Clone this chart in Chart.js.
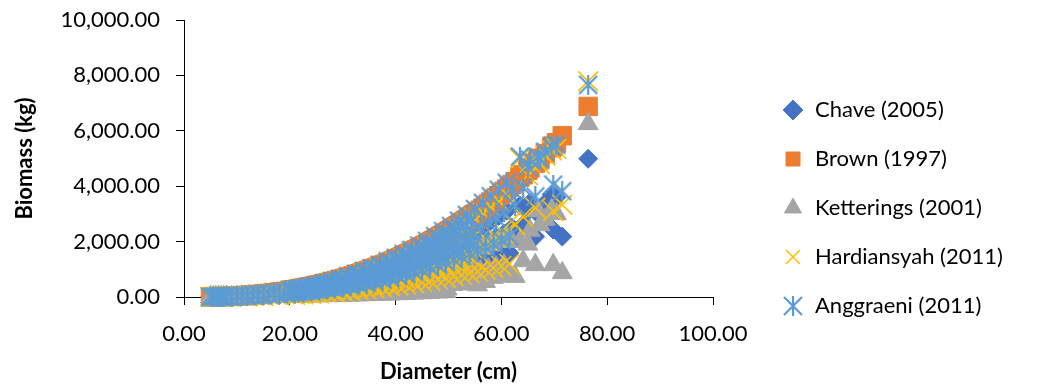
<!DOCTYPE html>
<html>
<head>
<meta charset="utf-8">
<title>Biomass vs Diameter</title>
<script src="https://cdn.jsdelivr.net/npm/chart.js@4.4.0/dist/chart.umd.min.js"></script>
<style>
  html, body { margin: 0; padding: 0; background: #fff; }
  #wrap { width: 1037px; height: 387px; }
</style>
</head>
<body>
<div id="wrap"><canvas id="biomass-chart" width="1037" height="387"></canvas></div>
<script>
// tree diameters (cm), one entry per tree, shared by every series
const diameterCm = [
  5, 5.5, 6, 6.5, 7, 7.5, 8, 9, 10, 11, 12, 13, 14, 15, 16, 17, 18, 19, 20,
  20.5, 21, 21.5, 22, 22.5, 23, 23.5, 24, 24.5, 25,
  25.5, 26, 26.5, 27, 27.5, 28, 28.5, 29, 29.5, 30,
  30.5, 31, 31.5, 32, 32.5, 33, 33.5, 34, 34.5, 35,
  35.5, 36, 36.5, 37, 37.5, 38, 38.5, 39, 39.5, 40,
  40.5, 41, 41.5, 42, 42.5, 43, 43.5, 44, 44.5, 45,
  45.5, 46, 46.5, 47, 47.5, 48, 48.5, 49, 49.5, 50,
  50.5, 51, 51.5, 52, 52.5, 53, 53.5, 54, 54.5, 55,
  55.5, 56, 56.5, 57, 57.5, 58, 58.5, 59, 59.5, 60, 60.5, 61, 61.5,
  62, 62.6, 63.5, 64.1, 65, 65.4, 66.4, 66.9, 67.3, 68.3, 69.5, 69.8, 70.4, 71.5, 76.4,
  // second group of trees, between the half-centimetre classes
  20.25, 20.75, 21.25, 21.75, 22.25, 22.75, 23.25, 23.75, 24.25, 24.75,
  25.25, 25.75, 26.25, 26.75, 27.25, 27.75, 28.25, 28.75, 29.25, 29.75,
  30.25, 30.75, 31.25, 31.75, 32.25, 32.75, 33.25, 33.75, 34.25, 34.75,
  35.25, 35.75, 36.25, 36.75, 37.25, 37.75, 38.25, 38.75, 39.25, 39.75,
  40.25, 40.75, 41.25, 41.75, 42.25, 42.75, 43.25, 43.75, 44.25, 44.75,
  45.25, 45.75, 46.25, 46.75, 47.25, 47.75, 48.25, 48.75, 49.25, 49.75,
  50.25, 50.75, 51.25, 51.75, 52.25, 52.75, 53.25, 53.75, 54.25, 54.75
];

// biomass (kg) for each allometric equation, same tree order as diameterCm
const chave2005 = [
  6, 4, 7, 11, 6, 12, 18, 12, 24, 41, 26, 47, 75, 45, 79, 123, 71, 122, 186,
  198, 105, 167, 236, 125, 198, 278, 147, 232, 326,
  171, 270, 378, 198, 311, 434, 227, 356, 495, 258,
  404, 562, 292, 457, 634, 329, 513, 710, 368, 573,
  792, 410, 637, 879, 455, 705, 972, 502, 778, 1070,
  552, 854, 1174, 605, 935, 1285, 662, 1022, 1402, 721,
  1112, 1524, 783, 1207, 1654, 849, 1307, 1789, 918, 1412,
  1930, 990, 1521, 2078, 1064, 1636, 2234, 1144, 1756, 2396,
  1226, 1881, 2566, 1312, 2012, 2742, 1402, 2148, 2926, 1494, 2289, 3116, 1591,
  2500, 2300, 3300, 2610, 3100, 3400, 2180, 3000, 3200, 3400, 3700, 2430, 3600, 2180, 4990,
  168, 128, 189, 144, 213, 161, 237, 179, 264, 199,
  293, 220, 323, 242, 355, 265, 389, 290, 424, 317,
  462, 344, 502, 373, 544, 404, 587, 436, 633, 469,
  681, 504, 731, 541, 783, 578, 837, 618, 893, 659,
  952, 702, 1012, 746, 1075, 792, 1141, 840, 1210, 889,
  1280, 940, 1352, 993, 1428, 1048, 1506, 1104, 1586, 1162,
  1668, 1222, 1754, 1283, 1840, 1347, 1931, 1413, 2025, 1481
];
const brown1997 = [
  7, 9, 11, 14, 16, 20, 23, 31, 40, 51, 64, 78, 94, 112, 132, 154, 178, 203, 232,
  247, 262, 278, 295, 312, 330, 348, 367, 387, 407,
  428, 450, 472, 495, 518, 542, 567, 593, 619, 646,
  674, 702, 731, 761, 792, 823, 855, 887, 921, 955,
  990, 1025, 1062, 1099, 1137, 1175, 1215, 1255, 1296, 1338,
  1381, 1424, 1468, 1513, 1559, 1606, 1654, 1703, 1752, 1802,
  1853, 1905, 1958, 2012, 2067, 2122, 2179, 2236, 2294, 2353,
  2413, 2474, 2535, 2597, 2661, 2726, 2792, 2859, 2927, 2995,
  3065, 3135, 3207, 3280, 3354, 3428, 3504, 3580, 3657, 3735, 3815, 3895, 3977,
  4059, 4160, 4330, 4410, 4574, 4660, 4830, 4920, 5010, 5180, 5390, 5450, 5570, 5820, 6880,
  240, 255, 270, 287, 304, 321, 339, 358, 377, 397,
  418, 439, 461, 484, 507, 530, 555, 580, 606, 633,
  660, 688, 717, 746, 777, 808, 839, 871, 904, 938,
  973, 1008, 1044, 1081, 1118, 1156, 1195, 1235, 1276, 1317,
  1360, 1403, 1446, 1491, 1536, 1583, 1630, 1679, 1728, 1777,
  1828, 1879, 1932, 1985, 2040, 2095, 2151, 2208, 2265, 2324,
  2383, 2444, 2505, 2566, 2629, 2694, 2759, 2826, 2893, 2961
];
const ketterings2001 = [
  4, 1, 3, 7, 1, 6, 13, 2, 12, 28, 5, 23, 52, 9, 40, 85, 14, 61, 128,
  86, 21, 56, 103, 25, 66, 122, 29, 77, 142,
  34, 90, 165, 40, 104, 190, 45, 119, 217, 52,
  135, 246, 58, 152, 277, 66, 171, 310, 74, 191,
  347, 82, 212, 385, 91, 235, 425, 100, 259, 468,
  110, 285, 514, 121, 312, 562, 132, 341, 613, 144,
  371, 667, 157, 402, 723, 170, 436, 783, 184, 471,
  845, 495, 507, 909, 532, 545, 977, 572, 585, 1048,
  430, 941, 1764, 550, 1006, 1885, 700, 1074, 2011, 750, 1145, 2142, 800,
  2000, 735, 2000, 1300, 1900, 2400, 1160, 3100, 2600, 2800, 3150, 1160, 3000, 870, 6250,
  67, 31, 76, 34, 85, 39, 95, 43, 106, 48,
  117, 53, 129, 58, 142, 64, 155, 70, 170, 76,
  185, 83, 201, 90, 218, 97, 235, 105, 253, 113,
  272, 121, 292, 130, 313, 139, 335, 148, 357, 158,
  381, 168, 405, 179, 430, 190, 456, 201, 484, 213,
  512, 225, 541, 238, 571, 251, 602, 265, 634, 279,
  667, 440, 701, 462, 736, 485, 773, 509, 810, 533
];
const hardiansyah2011 = [
  7, 3, 7, 13, 5, 12, 22, 9, 24, 48, 19, 47, 89, 34, 79, 146, 53, 122, 220,
  235, 79, 167, 280, 94, 198, 331, 110, 232, 387,
  128, 270, 448, 149, 311, 515, 170, 356, 588, 194,
  404, 667, 219, 457, 752, 247, 513, 843, 276, 573,
  941, 308, 637, 1044, 341, 705, 1154, 377, 778, 1271,
  414, 854, 1395, 454, 935, 1526, 496, 1022, 1664, 541,
  1112, 1810, 587, 1207, 1964, 637, 1307, 2124, 688, 1412,
  2292, 742, 1521, 2467, 798, 1636, 2652, 858, 1756, 2845,
  920, 1881, 3047, 984, 2012, 3257, 1051, 2148, 3474, 1121, 2289, 3700, 1193,
  2750, 2600, 5000, 2900, 4400, 4850, 3220, 5000, 4800, 5100, 5300, 3100, 5350, 3330, 7790,
  173, 115, 194, 129, 219, 144, 244, 161, 271, 179,
  301, 198, 332, 218, 365, 239, 400, 261, 436, 285,
  475, 310, 516, 336, 559, 364, 604, 392, 651, 422,
  701, 454, 752, 486, 805, 520, 860, 556, 919, 593,
  979, 631, 1041, 671, 1106, 712, 1174, 756, 1244, 800,
  1316, 846, 1391, 893, 1469, 943, 1549, 994, 1631, 1046,
  1716, 1100, 1804, 1155, 1893, 1212, 1986, 1272, 2083, 1332
];
const anggraeni2011 = [
  7, 5, 9, 14, 9, 16, 24, 17, 32, 54, 35, 62, 100, 62, 106, 163, 98, 162, 246,
  262, 144, 222, 313, 172, 264, 369, 202, 310, 431,
  235, 360, 500, 272, 414, 575, 312, 474, 656, 355,
  539, 744, 402, 609, 840, 453, 684, 940, 507, 764,
  1049, 564, 850, 1165, 625, 940, 1288, 690, 1037, 1418,
  760, 1139, 1556, 832, 1247, 1702, 910, 1362, 1857, 991,
  1482, 2019, 1077, 1610, 2191, 1167, 1743, 2370, 1262, 1882,
  2558, 1361, 2028, 2753, 1464, 2181, 2960, 1572, 2342, 3175,
  1686, 2508, 3400, 1804, 2683, 3634, 1927, 2864, 3876, 2054, 3052, 4129, 2187,
  3880, 3300, 5070, 3950, 4700, 4960, 3630, 5070, 4960, 5250, 5450, 4060, 5500, 3820, 7660,
  228, 173, 257, 195, 289, 218, 322, 243, 358, 270,
  397, 299, 438, 329, 482, 360, 527, 394, 576, 430,
  627, 468, 681, 507, 738, 549, 797, 592, 859, 638,
  924, 685, 992, 735, 1062, 786, 1135, 840, 1212, 896,
  1292, 954, 1374, 1014, 1459, 1076, 1549, 1142, 1642, 1208,
  1737, 1278, 1835, 1350, 1938, 1425, 2043, 1501, 2152, 1580,
  2264, 1662, 2380, 1745, 2498, 1832, 2621, 1922, 2748, 2013
];

const seriesNames = ["Chave (2005)", "Brown (1997)", "Ketterings (2001)", "Hardiansyah (2011)", "Anggraeni (2011)"];
const seriesValues = [chave2005, brown1997, ketterings2001, hardiansyah2011, anggraeni2011];
const seriesColors = ["#4472C4", "#ED7D31", "#A5A5A5", "#FFC000", "#5B9BD5"];

// excel style asterisk: an X with a vertical bar
function asteriskMarker(color, size, lw) {
  const c = document.createElement("canvas");
  c.width = size; c.height = size;
  const g = c.getContext("2d");
  g.strokeStyle = color;
  g.lineWidth = lw;
  g.beginPath();
  g.moveTo(1, 1); g.lineTo(size - 1, size - 1);
  g.moveTo(size - 1, 1); g.lineTo(1, size - 1);
  g.moveTo(size / 2, 0); g.lineTo(size / 2, size);
  g.stroke();
  return c;
}

const markerStyles = [
  { pointStyle: "rectRot", radius: 9.5, borderWidth: 1 },
  { pointStyle: "rect", radius: 13, borderWidth: 1 },
  { pointStyle: "triangle", radius: 11.5, borderWidth: 1 },
  { pointStyle: "crossRot", radius: 14, borderWidth: 1.6 },
  { pointStyle: asteriskMarker(seriesColors[4], 20, 2.2), radius: 10, borderWidth: 1.5 }
];

const datasets = seriesNames.map((name, i) => ({
  label: name,
  data: diameterCm.map((d, k) => ({ x: d, y: seriesValues[i][k] })),
  backgroundColor: seriesColors[i],
  borderColor: seriesColors[i],
  pointStyle: markerStyles[i].pointStyle,
  pointRadius: markerStyles[i].radius,
  pointHoverRadius: markerStyles[i].radius,
  pointBorderWidth: markerStyles[i].borderWidth,
  order: seriesNames.length - 1 - i,   // later series drawn on top, like excel
  clip: false
}));

const fmt2 = v => v.toLocaleString("en-US", { minimumFractionDigits: 2, maximumFractionDigits: 2 });

// legend sits to the right of the plot, plot area ends at x=713
const legendPlacement = {
  id: "legendPlacement",
  beforeLayout(chart) {
    const lg = chart.legend;
    if (lg && !lg.fixedFit) {
      const fit = lg.fit.bind(lg);
      lg.fit = function () { fit(); this.width = 324; };
      lg.fixedFit = true;
    }
  },
  afterLayout(chart) {
    const lg = chart.legend;
    lg.left = 755; lg.right = 1037;
    lg.top = 14; lg.bottom = 402;
  }
};

Chart.defaults.font.family = "Lato, 'Open Sans', sans-serif";
Chart.defaults.font.size = 22;
Chart.defaults.color = "#000";

new Chart("biomass-chart", {
  type: "scatter",
  data: { datasets: datasets },
  plugins: [legendPlacement],
  options: {
    responsive: false,
    animation: false,
    layout: { padding: { top: 20, right: 0, bottom: 0, left: 0 } },
    scales: {
      x: {
        type: "linear",
        min: 0, max: 100,
        afterFit: s => { s.height = 90; s.paddingLeft = 0; s.paddingRight = 0; },
        border: { color: "#000", width: 1 },
        grid: { drawOnChartArea: false, color: "#000", tickLength: 8 },
        ticks: { stepSize: 20, padding: 16, callback: fmt2 },
        title: { display: true, text: "Diameter (cm)", font: { weight: "bold", size: 22 }, padding: { top: 0, bottom: 2 } }
      },
      y: {
        min: 0, max: 10000,
        afterFit: s => { s.width = 184; s.paddingTop = 0; s.paddingBottom = 0; },
        border: { color: "#000", width: 1 },
        grid: { drawOnChartArea: false, color: "#000", tickLength: 8 },
        ticks: { stepSize: 2000, padding: 16, callback: fmt2 },
        title: { display: true, text: "Biomass (kg)", font: { weight: "bold", size: 22 }, padding: { top: 12, bottom: 0 } }
      }
    },
    plugins: {
      tooltip: { enabled: false },
      legend: {
        position: "right",
        reverse: true,
        labels: { usePointStyle: true, boxHeight: 14, padding: 27, color: "#000", font: { size: 22 } }
      }
    }
  }
});
</script>
</body>
</html>
